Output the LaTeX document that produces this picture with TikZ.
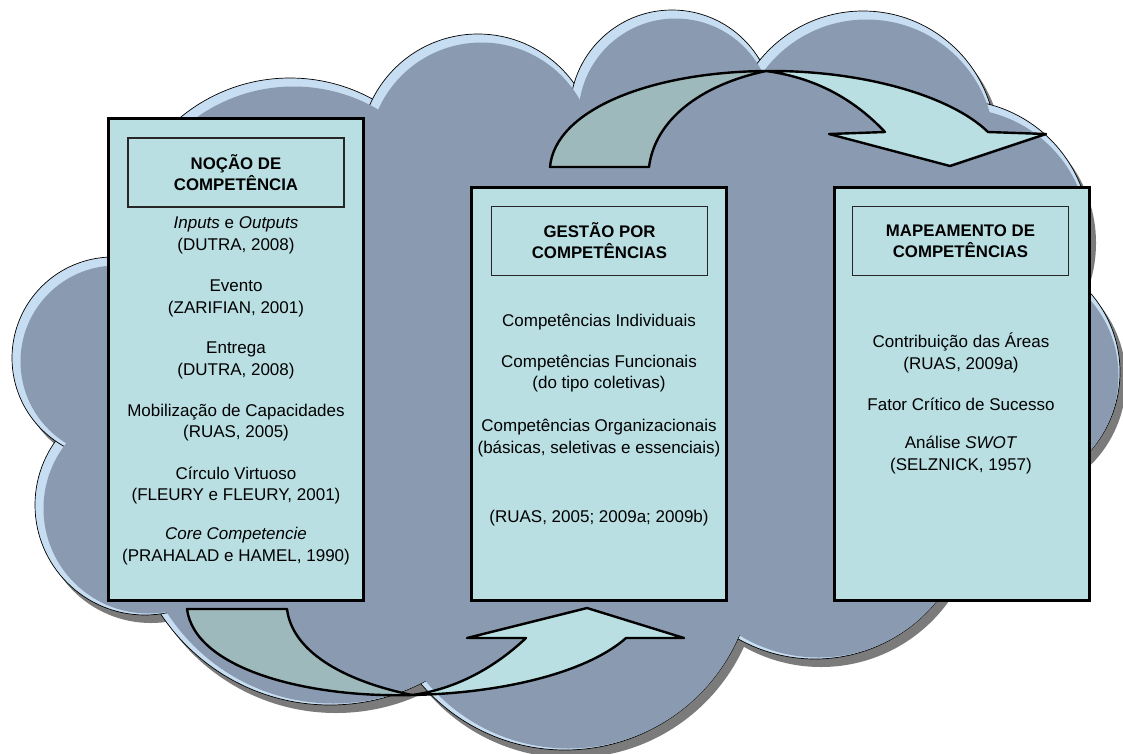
\documentclass[tikz,border=0pt]{standalone}
\usepackage{fontspec}
\setsansfont{Liberation Sans}
\usetikzlibrary{positioning}

\definecolor{cloudblue}{HTML}{8A9BB1}
\definecolor{cloudrim}{HTML}{C7DDF1}
\definecolor{cloudshade}{HTML}{7B7B7B}
\definecolor{panelcyan}{HTML}{B9DFE3}
\definecolor{arrowteal}{HTML}{9DB9BC}

\begin{document}
\begin{tikzpicture}[
  x=1pt, y=-1pt,
  font=\sffamily\fontsize{17}{21.5}\selectfont,
  bumpshadow/.style={fill=cloudshade},
  bumprim/.style={fill=cloudrim, draw=black, line width=0.7pt},
  bumpbody/.style={fill=cloudblue},
  panel/.style={
    draw=black,
    line width=3pt,
    fill=panelcyan,
    minimum width=255pt,
    inner sep=0pt
  },
  titlebox/.style={
    draw=black!85,
    line width=1.2pt,
    fill=panelcyan,
    minimum width=216pt,
    minimum height=69pt,
    align=center,
    font=\sffamily\bfseries\fontsize{16.8}{21}\selectfont
  },
  item/.style={align=center, inner sep=0pt},
  arrowlight/.style={fill=panelcyan, draw=black, line width=2.4pt, line join=round},
  arrowdark/.style={fill=arrowteal, draw=black, line width=2.4pt, line join=round}
]

\useasboundingbox (0,0) rectangle (1123,753);

% cloud
\def\bumps{290/250/172, 478/152/118, 672/112/102, 863/144/133, 955/235/135,
  1000/372/120, 815/502/157, 565/560/190, 330/502/203, 145/505/110, 113/358/101}
\foreach \x/\y/\r in \bumps {\fill[bumpshadow] (\x+6,\y+8) circle (\r pt);}
\foreach \x/\y/\r in \bumps {\filldraw[bumprim] (\x,\y) circle (\r pt);}
\foreach \x/\y/\r in \bumps {\fill[bumpbody] (\x+3.5,\y+3.5) circle (\r pt-5pt);}
\fill[bumpbody] (290,250) -- (478,152) -- (672,112) -- (863,144) -- (955,235) -- (1000,372)
  -- (815,502) -- (565,560) -- (330,502) -- (145,505) -- (113,358) -- cycle;

% curved arrows
\filldraw[arrowdark] (550,167) .. controls (555,110) and (650,72) .. (766,71)
  .. controls (700,85) and (655,120) .. (649,167) -- cycle;
\filldraw[arrowlight] (766,71) .. controls (860,70) and (950,95) .. (988,132)
  -- (1046,134) -- (950,166) -- (829,134) -- (885,132)
  .. controls (850,95) and (810,77) .. (766,71) -- cycle;

\filldraw[arrowdark] (187,609) .. controls (195,670) and (310,698) .. (412,695)
  .. controls (340,680) and (292,650) .. (287,609) -- cycle;
\filldraw[arrowlight] (412,695) .. controls (510,693) and (590,670) .. (626,638)
  -- (684,638) -- (587,608) -- (467,638) -- (526,638)
  .. controls (490,672) and (450,690) .. (412,695) -- cycle;

% panels
\node[panel, minimum height=482pt] (nocao) at (235.5,359) {};
\node[panel, minimum height=413pt] (gestao) at (598.5,393.5) {};
\node[panel, minimum height=413pt] (mapeamento) at (961.5,393.5) {};

\node[titlebox] (nocaotitle) at (236,172.5) {NOÇÃO DE\\COMPETÊNCIA};
\node[titlebox] (gestaotitle) at (599.5,241) {GESTÃO POR\\COMPETÊNCIAS};
\node[titlebox] (mapeamentotitle) at (960.5,241) {MAPEAMENTO DE\\COMPETÊNCIAS};

\node[item] (inputs) at (236,235.5) {\textit{Inputs} e \textit{Outputs}\\(DUTRA, 2008)};
\node[item] (evento) at (236,298.5) {Evento\\(ZARIFIAN, 2001)};
\node[item] (entrega) at (236,360.5) {Entrega\\(DUTRA, 2008)};
\node[item] (mobilizacao) at (236,422.5) {Mobilização de Capacidades\\(RUAS, 2005)};
\node[item] (circulo) at (236,485.5) {Círculo Virtuoso\\(FLEURY e FLEURY, 2001)};
\node[item] (core) at (236,546) {\textit{Core Competencie}\\(PRAHALAD e HAMEL, 1990)};

\node[item] (individuais) at (599,322) {Competências Individuais};
\node[item] (funcionais) at (599,373.5) {Competências Funcionais\\(do tipo coletivas)};
\node[item] (organizacionais) at (599,438) {Competências Organizacionais\\(básicas, seletivas e essenciais)};
\node[item] (ruas) at (599,518) {(RUAS, 2005; 2009a; 2009b)};

\node[item] (contribuicao) at (961,353) {Contribuição das Áreas\\(RUAS, 2009a)};
\node[item] (fator) at (961,404) {Fator Crítico de Sucesso};
\node[item] (swot) at (961,455) {Análise \textit{SWOT}\\(SELZNICK, 1957)};

\end{tikzpicture}
\end{document}
